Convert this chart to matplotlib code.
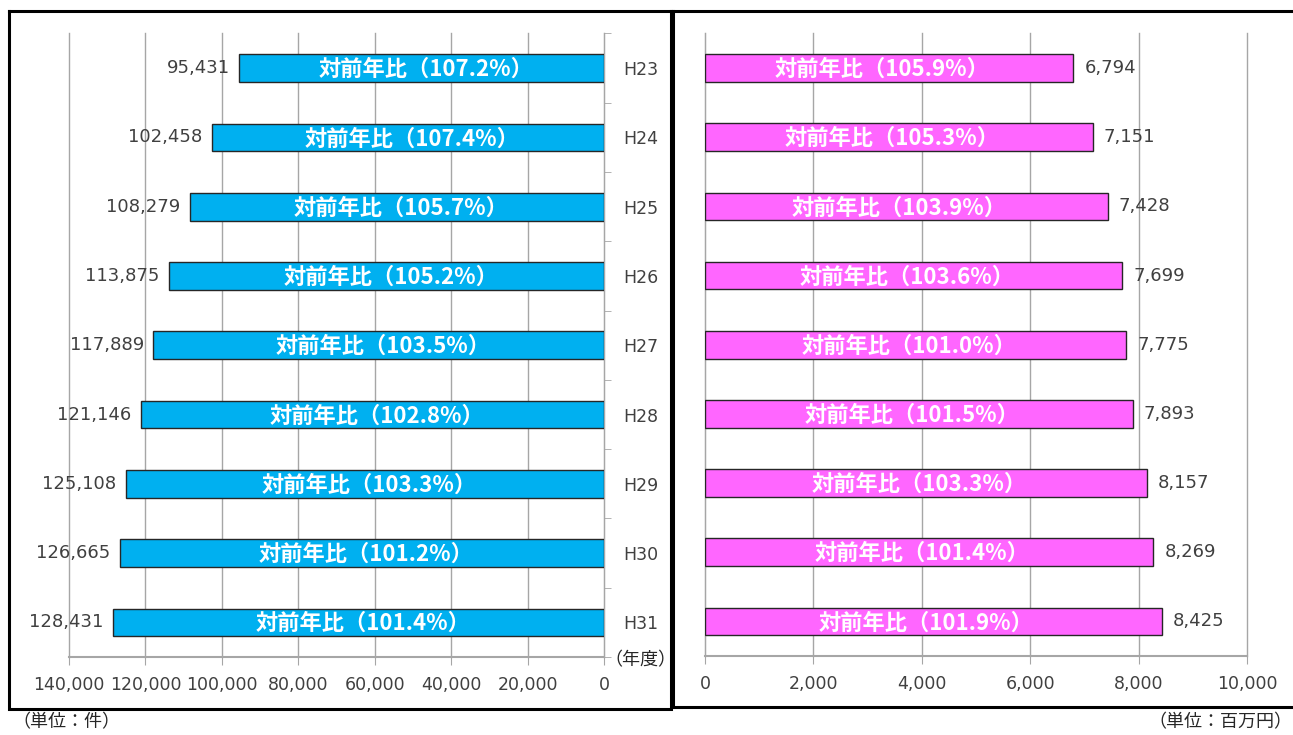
import matplotlib.pyplot as plt
from matplotlib.lines import Line2D
from matplotlib.ticker import FuncFormatter

plt.rcParams['font.family'] = ['DejaVu Sans', 'Noto Sans CJK JP']

# datos
years = ['H23', 'H24', 'H25', 'H26', 'H27', 'H28', 'H29', 'H30', 'H31']
cases = [95431, 102458, 108279, 113875, 117889, 121146, 125108, 126665, 128431]
cases_ratio = [107.2, 107.4, 105.7, 105.2, 103.5, 102.8, 103.3, 101.2, 101.4]
amount = [6794, 7151, 7428, 7699, 7775, 7893, 8157, 8269, 8425]
amount_ratio = [105.9, 105.3, 103.9, 103.6, 101.0, 101.5, 103.3, 101.4, 101.9]

W, H = 1293, 735
fig = plt.figure(figsize=(W / 100, H / 100), dpi=100)


def px_axes(x0, y0, x1, y1):
    return fig.add_axes([x0 / W, 1 - y1 / H, (x1 - x0) / W, (y1 - y0) / H])


grid_c = '#a6a6a6'
text_c = '#404040'
fmt = FuncFormatter(lambda v, p: f'{int(v):,}')
pos = list(range(len(years)))

# panel izquierdo
ax1 = px_axes(69, 33.5, 604, 657)
ax1.barh(pos, cases, height=0.4, color='#00B0F0', edgecolor='#262626', linewidth=1, zorder=3)
ax1.set_xlim(140000, 0)
ax1.set_ylim(len(years) - 0.5, -0.5)
ax1.set_xticks(range(0, 140001, 20000))
ax1.xaxis.set_major_formatter(fmt)
ax1.grid(axis='x', color=grid_c, linewidth=1, zorder=0)
for s in ['top', 'left']:
    ax1.spines[s].set_visible(False)
ax1.spines['right'].set_color(grid_c)
ax1.spines['bottom'].set_color(grid_c)
ax1.spines['bottom'].set_linewidth(1.5)
ax1.yaxis.tick_right()
ax1.set_yticks(pos)
ax1.set_yticklabels(years, fontsize=12.5, color=text_c)
ax1.tick_params(axis='y', length=0, pad=14)
ax1.set_yticks([p - 0.5 for p in pos] + [len(years) - 0.5], minor=True)
ax1.tick_params(axis='y', which='minor', length=5, color=grid_c, right=True)
ax1.tick_params(axis='x', length=6, color=grid_c, labelsize=12.5, labelcolor=text_c, pad=8)
for i, v in enumerate(cases):
    ax1.annotate(f'{v:,}', (v, i), xytext=(-7, 0), textcoords='offset points',
                 ha='right', va='center', fontsize=13, color=text_c, zorder=4)
    ax1.annotate(f'対前年比（{cases_ratio[i]}%）', (v / 2, i), xytext=(3, -1),
                 textcoords='offset points', ha='center', va='center',
                 fontsize=16, color='white', fontweight='bold',
                 family=['Noto Sans CJK JP'], zorder=5)

# panel derecho
ax2 = px_axes(705, 33.5, 1247, 656)
ax2.barh(pos, amount, height=0.4, color='#FF66FF', edgecolor='#262626', linewidth=1, zorder=3)
ax2.set_xlim(0, 10000)
ax2.set_ylim(len(years) - 0.5, -0.5)
ax2.set_xticks(range(0, 10001, 2000))
ax2.xaxis.set_major_formatter(fmt)
ax2.grid(axis='x', color=grid_c, linewidth=1, zorder=0)
for ln in ax1.get_xgridlines() + ax2.get_xgridlines():
    ln.set_clip_on(False)
for s in ['top', 'right']:
    ax2.spines[s].set_visible(False)
ax2.spines['left'].set_color(grid_c)
ax2.spines['bottom'].set_color(grid_c)
ax2.spines['bottom'].set_linewidth(1.5)
ax2.set_yticks([])
ax2.tick_params(axis='x', length=6, color=grid_c, labelsize=12.5, labelcolor=text_c, pad=8)
for i, v in enumerate(amount):
    ax2.annotate(f'{v:,}', (v, i), xytext=(8, 0), textcoords='offset points',
                 ha='left', va='center', fontsize=13, color=text_c, zorder=4)
    ax2.annotate(f'対前年比（{amount_ratio[i]}%）', (v / 2, i), xytext=(-5, -1),
                 textcoords='offset points', ha='center', va='center',
                 fontsize=16, color='white', fontweight='bold',
                 family=['Noto Sans CJK JP'], zorder=5)

# textos sueltos
jp = ['Noto Sans CJK JP']
fig.text(640 / W, 1 - 660 / H, '（年度）', ha='center', va='center', fontsize=13, color='#262626', family=jp)
fig.text(66 / W, 1 - 722 / H, '（単位：件）', ha='center', va='center', fontsize=13, color='#262626', family=jp)
fig.text(1292 / W, 1 - 722 / H, '（単位：百万円）', ha='right', va='center', fontsize=13, color='#262626', family=jp)

# marcos
def frame(pts):
    xs = [p[0] / W for p in pts]
    ys = [1 - p[1] / H for p in pts]
    fig.add_artist(Line2D(xs, ys, color='black', linewidth=2.2, solid_joinstyle='miter'))


frame([(9, 11), (671, 11), (671, 709), (9, 709), (9, 11)])
frame([(671, 11), (1293, 11)])
frame([(673, 11), (673, 707), (1293, 707)])

fig.savefig('out.png', dpi=100)
